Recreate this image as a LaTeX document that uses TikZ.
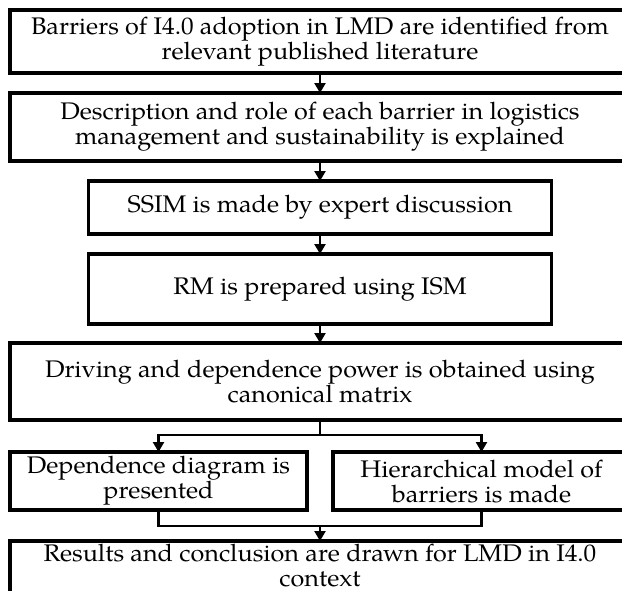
\documentclass[tikz,border=0pt]{standalone}
\usepackage{fontspec}
\setmainfont[FakeStretch=1.05]{TeX Gyre Pagella}
\usetikzlibrary{arrows.meta,positioning,calc}

\begin{document}
\begin{tikzpicture}[
    font=\fontsize{12}{12.5}\selectfont,
    box/.style={draw, line width=1.6pt, outer sep=0pt, align=center, inner sep=2pt, minimum width=310pt},
    narrow/.style={minimum width=231.5pt},
    half/.style={minimum width=148.5pt, minimum height=29pt},
    arrow/.style={-{Triangle[length=5pt,width=5.5pt]}, line width=1.3pt},
    link/.style={line width=1.3pt}
]
\useasboundingbox (0,0) rectangle (311pt,-295pt);
\node[box, minimum height=31.5pt, anchor=north] (lit) at (160pt,-5pt) {Barriers of I4.0 adoption in LMD are identified from\\relevant published literature};
\node[box, minimum height=34pt, below=10pt of lit] (desc) {Description and role of each barrier in logistics\\management and sustainability is explained};
\node[box, narrow, minimum height=26.5pt, below=10pt of desc] (ssim) {SSIM is made by expert discussion};
\node[box, narrow, minimum height=35pt, below=10pt of ssim] (rm) {RM is prepared using ISM};
\node[box, minimum height=38.5pt, below=9.5pt of rm] (drive) {Driving and dependence power is obtained using\\canonical matrix};
\node[box, half, below=16pt of drive.south west, anchor=north west] (dep) {Dependence diagram is\\presented};
\node[box, half, below=16pt of drive.south east, anchor=north east] (hier) {Hierarchical model of\\barriers is made};
\coordinate[below=7.5pt of drive] (split);
\coordinate (join) at ($(dep.south -| drive.south)+(0,-8pt)$);
% bottom edge runs past the page
\node[box, inner ysep=1.5pt, text depth=8pt, below=7.5pt of join] (res) {Results and conclusion are drawn for LMD in I4.0\\context};
\draw[arrow] (lit) -- (desc);
\draw[arrow] (desc) -- (ssim);
\draw[arrow] (ssim) -- (rm);
\draw[arrow] (rm) -- (drive);
\draw[link] (drive) -- (split);
\draw[arrow] (split) -| (dep);
\draw[arrow] (split) -| (hier);
\draw[link] (dep) |- (join) -| (hier);
\draw[arrow] (join) -- (res);
\end{tikzpicture}
\end{document}
